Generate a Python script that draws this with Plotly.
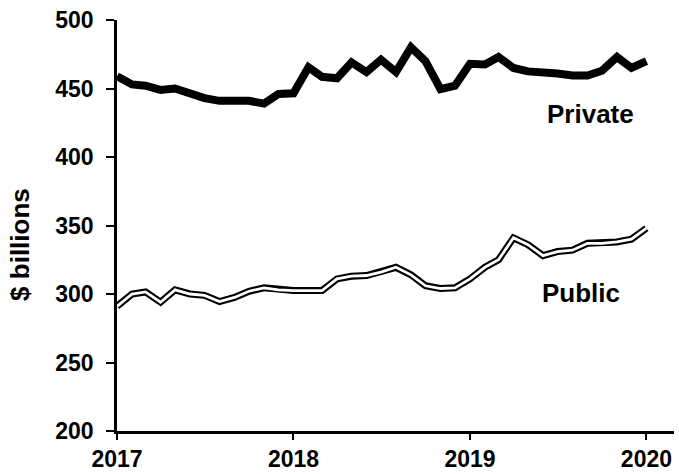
import plotly.graph_objects as go

months = [f"{2017 + i // 12}-{i % 12 + 1:02d}-01" for i in range(37)]

private = [459, 453, 452, 449, 450, 446, 443, 441, 441, 441, 439, 446, 446.5,
           465.5, 458.5, 457.5, 469, 462, 471, 462, 480, 470, 449.5, 452,
           468, 467.5, 473, 465, 462.5, 462, 461, 459.5, 459.5, 463, 473, 465, 470]

public = [291, 300, 301.5, 294, 303, 300, 299, 294.5, 297.5, 302, 304.5, 303, 302.5,
          302.5, 302.5, 311, 313, 313.5, 316, 319.5, 314, 306, 304, 304.5,
          311, 319.5, 325, 341, 336, 328, 331, 332, 337, 337, 338, 340, 348]

y_ticks = [200, 250, 300, 350, 400, 450, 500]
x_ticks = ["2017-01-01", "2018-01-01", "2019-01-01", "2020-01-01"]
x_tick_text = ["2017", "2018", "2019", "2020"]

FONT = "Liberation Sans, Arial, sans-serif"
BF = dict(family=FONT, size=23, color="black", weight="bold")

fig = go.Figure()
fig.add_trace(go.Scatter(x=months, y=private, mode="lines",
                         line=dict(color="black", width=8), name="Private",
                         showlegend=False))
fig.add_trace(go.Scatter(x=months, y=public, mode="lines",
                         line=dict(color="black", width=7), name="Public",
                         showlegend=False))
fig.add_trace(go.Scatter(x=months, y=public, mode="lines",
                         line=dict(color="white", width=2.8), name="Public",
                         showlegend=False, hoverinfo="skip"))

fig.add_annotation(x="2019-09-07", y=444, text="Private", showarrow=False,
                   font=dict(BF, size=26), xanchor="center", yanchor="top")
fig.add_annotation(x="2019-08-18", y=313, text="Public", showarrow=False,
                   font=dict(BF, size=26), xanchor="center", yanchor="top")
fig.add_annotation(xref="paper", yref="paper", x=-0.174, y=0.453, text="$ billions",
                   showarrow=False, textangle=-90, font=dict(BF, size=26),
                   xanchor="center", yanchor="middle")

fig.update_layout(
    width=679, height=474,
    margin=dict(l=117, r=5, t=20, b=43),
    paper_bgcolor="white", plot_bgcolor="white",
    font=BF,
    xaxis=dict(range=["2017-01-01", "2020-02-27"], tickvals=x_ticks, ticktext=x_tick_text,
               automargin=False,
               showgrid=False, zeroline=False, showline=True, linecolor="black", linewidth=2.5,
               ticks="outside", ticklen=6, tickwidth=2, tickcolor="black",
               tickfont=BF),
    yaxis=dict(range=[200, 500], tickvals=y_ticks, automargin=False,
               showgrid=False, zeroline=False, showline=True, linecolor="black", linewidth=2.5,
               ticks="outside", ticklen=8, tickwidth=2, tickcolor="black",
               ticklabelstandoff=8,
               tickfont=BF),
)

fig.write_html("out.html", config={"displayModeBar": False},
               post_script="document.body.style.margin='0';document.body.style.overflow='hidden';")
